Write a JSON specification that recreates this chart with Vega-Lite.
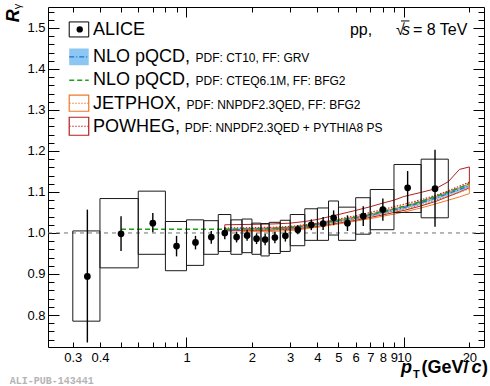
{
  "$schema": "https://vega.github.io/schema/vega-lite/v6.json",
  "width": 436,
  "height": 340,
  "autosize": "none",
  "padding": {"left": 48, "top": 7, "right": 6, "bottom": 39},
  "background": "white",
  "config": {
    "view": {"stroke": "black", "strokeWidth": 1},
    "font": "Liberation Sans",
    "text": {"font": "Liberation Sans", "color": "black"}
  },
  "data": {"values": [{}]},
  "datasets": {
    "alice": [
      {"pt": 0.35, "ptlo": 0.3, "pthi": 0.4, "r": 0.894, "statlo": 0.733, "stathi": 1.057, "syslo": 0.785, "syshi": 1.005},
      {"pt": 0.5, "ptlo": 0.4, "pthi": 0.6, "r": 0.998, "statlo": 0.956, "stathi": 1.041, "syslo": 0.915, "syshi": 1.084},
      {"pt": 0.7, "ptlo": 0.6, "pthi": 0.8, "r": 1.024, "statlo": 1.002, "stathi": 1.049, "syslo": 0.948, "syshi": 1.102},
      {"pt": 0.9, "ptlo": 0.8, "pthi": 1.0, "r": 0.968, "statlo": 0.943, "stathi": 0.993, "syslo": 0.908, "syshi": 1.028},
      {"pt": 1.1, "ptlo": 1.0, "pthi": 1.2, "r": 0.977, "statlo": 0.96, "stathi": 0.993, "syslo": 0.921, "syshi": 1.032},
      {"pt": 1.3, "ptlo": 1.2, "pthi": 1.4, "r": 0.99, "statlo": 0.974, "stathi": 1.005, "syslo": 0.948, "syshi": 1.03},
      {"pt": 1.5, "ptlo": 1.4, "pthi": 1.6, "r": 1.0, "statlo": 0.985, "stathi": 1.014, "syslo": 0.955, "syshi": 1.045},
      {"pt": 1.7, "ptlo": 1.6, "pthi": 1.8, "r": 0.99, "statlo": 0.977, "stathi": 1.003, "syslo": 0.948, "syshi": 1.032},
      {"pt": 1.9, "ptlo": 1.8, "pthi": 2.0, "r": 0.994, "statlo": 0.981, "stathi": 1.007, "syslo": 0.952, "syshi": 1.034},
      {"pt": 2.1, "ptlo": 2.0, "pthi": 2.2, "r": 0.986, "statlo": 0.973, "stathi": 0.999, "syslo": 0.948, "syshi": 1.024},
      {"pt": 2.3, "ptlo": 2.2, "pthi": 2.4, "r": 0.984, "statlo": 0.97, "stathi": 0.998, "syslo": 0.944, "syshi": 1.023},
      {"pt": 2.55, "ptlo": 2.4, "pthi": 2.7, "r": 0.989, "statlo": 0.975, "stathi": 1.003, "syslo": 0.95, "syshi": 1.026},
      {"pt": 2.85, "ptlo": 2.7, "pthi": 3.0, "r": 0.993, "statlo": 0.979, "stathi": 1.007, "syslo": 0.955, "syshi": 1.031},
      {"pt": 3.25, "ptlo": 3.0, "pthi": 3.5, "r": 1.008, "statlo": 0.997, "stathi": 1.019, "syslo": 0.969, "syshi": 1.045},
      {"pt": 3.75, "ptlo": 3.5, "pthi": 4.0, "r": 1.02, "statlo": 1.007, "stathi": 1.033, "syslo": 0.982, "syshi": 1.059},
      {"pt": 4.25, "ptlo": 4.0, "pthi": 4.5, "r": 1.023, "statlo": 1.007, "stathi": 1.039, "syslo": 0.982, "syshi": 1.061},
      {"pt": 4.75, "ptlo": 4.5, "pthi": 5.0, "r": 1.037, "statlo": 1.019, "stathi": 1.055, "syslo": 0.995, "syshi": 1.078},
      {"pt": 5.5, "ptlo": 5.0, "pthi": 6.0, "r": 1.024, "statlo": 1.005, "stathi": 1.043, "syslo": 0.982, "syshi": 1.063},
      {"pt": 6.5, "ptlo": 6.0, "pthi": 7.0, "r": 1.041, "statlo": 1.017, "stathi": 1.065, "syslo": 0.997, "syshi": 1.086},
      {"pt": 8.0, "ptlo": 7.0, "pthi": 9.0, "r": 1.057, "statlo": 1.03, "stathi": 1.084, "syslo": 1.008, "syshi": 1.106},
      {"pt": 10.4, "ptlo": 9.0, "pthi": 12.0, "r": 1.11, "statlo": 1.065, "stathi": 1.151, "syslo": 1.05, "syshi": 1.167},
      {"pt": 13.9, "ptlo": 12.0, "pthi": 16.0, "r": 1.108, "statlo": 1.015, "stathi": 1.203, "syslo": 1.037, "syshi": 1.18}
    ],
    "theory": [
      {"m": "CTEQ", "pt": 0.5, "mid": 1.009},
      {"m": "CTEQ", "pt": 1, "mid": 1.009},
      {"m": "CTEQ", "pt": 1.5, "mid": 1.009},
      {"m": "CTEQ", "pt": 2, "mid": 1.01},
      {"m": "CTEQ", "pt": 2.5, "mid": 1.011},
      {"m": "CTEQ", "pt": 3, "mid": 1.013},
      {"m": "CTEQ", "pt": 3.5, "mid": 1.017},
      {"m": "CTEQ", "pt": 4, "mid": 1.022},
      {"m": "CTEQ", "pt": 5, "mid": 1.031},
      {"m": "CTEQ", "pt": 6, "mid": 1.039},
      {"m": "CTEQ", "pt": 7, "mid": 1.046},
      {"m": "CTEQ", "pt": 8, "mid": 1.053},
      {"m": "CTEQ", "pt": 9, "mid": 1.059},
      {"m": "CTEQ", "pt": 10, "mid": 1.065},
      {"m": "CTEQ", "pt": 12, "mid": 1.077},
      {"m": "CTEQ", "pt": 14, "mid": 1.089},
      {"m": "CTEQ", "pt": 16, "mid": 1.1},
      {"m": "CTEQ", "pt": 18, "mid": 1.11},
      {"m": "CTEQ", "pt": 20, "mid": 1.121},
      {"m": "CT10", "pt": 1.5, "lo": 1.005, "mid": 1.008, "hi": 1.011},
      {"m": "CT10", "pt": 2, "lo": 1.006, "mid": 1.009, "hi": 1.012},
      {"m": "CT10", "pt": 2.5, "lo": 1.007, "mid": 1.01, "hi": 1.013},
      {"m": "CT10", "pt": 3, "lo": 1.009, "mid": 1.012, "hi": 1.015},
      {"m": "CT10", "pt": 3.5, "lo": 1.013, "mid": 1.016, "hi": 1.019},
      {"m": "CT10", "pt": 4, "lo": 1.018, "mid": 1.021, "hi": 1.024},
      {"m": "CT10", "pt": 5, "lo": 1.026, "mid": 1.029, "hi": 1.032},
      {"m": "CT10", "pt": 6, "lo": 1.033, "mid": 1.036, "hi": 1.039},
      {"m": "CT10", "pt": 7, "lo": 1.04, "mid": 1.043, "hi": 1.046},
      {"m": "CT10", "pt": 8, "lo": 1.046, "mid": 1.05, "hi": 1.053},
      {"m": "CT10", "pt": 9, "lo": 1.052, "mid": 1.056, "hi": 1.059},
      {"m": "CT10", "pt": 10, "lo": 1.058, "mid": 1.062, "hi": 1.065},
      {"m": "CT10", "pt": 12, "lo": 1.07, "mid": 1.074, "hi": 1.077},
      {"m": "CT10", "pt": 14, "lo": 1.081, "mid": 1.085, "hi": 1.089},
      {"m": "CT10", "pt": 16, "lo": 1.092, "mid": 1.096, "hi": 1.1},
      {"m": "CT10", "pt": 18, "lo": 1.102, "mid": 1.106, "hi": 1.11},
      {"m": "CT10", "pt": 20, "lo": 1.111, "mid": 1.115, "hi": 1.119},
      {"m": "JETPHOX", "pt": 1.8, "lo": 1.004, "mid": 1.007, "hi": 1.011},
      {"m": "JETPHOX", "pt": 2, "lo": 1.004, "mid": 1.007, "hi": 1.011},
      {"m": "JETPHOX", "pt": 2.5, "lo": 1.004, "mid": 1.008, "hi": 1.012},
      {"m": "JETPHOX", "pt": 3, "lo": 1.006, "mid": 1.01, "hi": 1.014},
      {"m": "JETPHOX", "pt": 3.5, "lo": 1.01, "mid": 1.014, "hi": 1.018},
      {"m": "JETPHOX", "pt": 4, "lo": 1.014, "mid": 1.018, "hi": 1.023},
      {"m": "JETPHOX", "pt": 5, "lo": 1.022, "mid": 1.027, "hi": 1.032},
      {"m": "JETPHOX", "pt": 6, "lo": 1.029, "mid": 1.034, "hi": 1.039},
      {"m": "JETPHOX", "pt": 7, "lo": 1.035, "mid": 1.041, "hi": 1.046},
      {"m": "JETPHOX", "pt": 8, "lo": 1.041, "mid": 1.047, "hi": 1.053},
      {"m": "JETPHOX", "pt": 9, "lo": 1.046, "mid": 1.053, "hi": 1.059},
      {"m": "JETPHOX", "pt": 10, "lo": 1.051, "mid": 1.058, "hi": 1.065},
      {"m": "JETPHOX", "pt": 12, "lo": 1.061, "mid": 1.069, "hi": 1.077},
      {"m": "JETPHOX", "pt": 14, "lo": 1.071, "mid": 1.08, "hi": 1.089},
      {"m": "JETPHOX", "pt": 16, "lo": 1.08, "mid": 1.09, "hi": 1.1},
      {"m": "JETPHOX", "pt": 18, "lo": 1.088, "mid": 1.099, "hi": 1.11},
      {"m": "JETPHOX", "pt": 20, "lo": 1.096, "mid": 1.108, "hi": 1.12},
      {"m": "POWHEG", "pt": 1.5, "lo": 1.005, "mid": 1.012, "hi": 1.02},
      {"m": "POWHEG", "pt": 2, "lo": 1.006, "mid": 1.013, "hi": 1.021},
      {"m": "POWHEG", "pt": 2.5, "lo": 1.007, "mid": 1.014, "hi": 1.022},
      {"m": "POWHEG", "pt": 3, "lo": 1.009, "mid": 1.016, "hi": 1.024},
      {"m": "POWHEG", "pt": 3.5, "lo": 1.012, "mid": 1.02, "hi": 1.028},
      {"m": "POWHEG", "pt": 4, "lo": 1.016, "mid": 1.024, "hi": 1.033},
      {"m": "POWHEG", "pt": 5, "lo": 1.024, "mid": 1.034, "hi": 1.045},
      {"m": "POWHEG", "pt": 6, "lo": 1.031, "mid": 1.042, "hi": 1.055},
      {"m": "POWHEG", "pt": 7, "lo": 1.038, "mid": 1.05, "hi": 1.064},
      {"m": "POWHEG", "pt": 8, "lo": 1.044, "mid": 1.057, "hi": 1.073},
      {"m": "POWHEG", "pt": 9, "lo": 1.05, "mid": 1.064, "hi": 1.08},
      {"m": "POWHEG", "pt": 10, "lo": 1.055, "mid": 1.07, "hi": 1.089},
      {"m": "POWHEG", "pt": 12, "lo": 1.066, "mid": 1.081, "hi": 1.099},
      {"m": "POWHEG", "pt": 14, "lo": 1.077, "mid": 1.092, "hi": 1.108},
      {"m": "POWHEG", "pt": 16, "lo": 1.089, "mid": 1.103, "hi": 1.125},
      {"m": "POWHEG", "pt": 18, "lo": 1.1, "mid": 1.114, "hi": 1.155},
      {"m": "POWHEG", "pt": 20, "lo": 1.11, "mid": 1.124, "hi": 1.161}
    ]
  },
  "layer": [
    {
      "layer": [
        {
          "mark": {"type": "rule", "color": "#707070", "strokeDash": [4, 4], "strokeWidth": 1},
          "encoding": {
            "x": {"datum": 0.2307, "type": "quantitative",
              "scale": {"type": "log", "domain": [0.2307, 23.35], "nice": false},
              "axis": {
                "orient": "bottom", "title": null, "grid": false, "domain": false,
                "values": [0.3, 0.4, 0.5, 0.6, 0.7, 0.8, 0.9, 1, 2, 3, 4, 5, 6, 7, 8, 9, 10, 20],
                "format": "~g",
                "labelExpr": "(datum.value > 0.45 && datum.value < 0.95) ? '' : datum.label",
                "tickSize": {"condition": {"test": "datum.value == 1 || datum.value == 10", "value": -10}, "value": -5},
                "labelPadding": {"condition": {"test": "datum.value == 1 || datum.value == 10", "value": 14}, "value": 9},
                "labelFontSize": 13, "labelFont": "Liberation Sans", "labelColor": "black",
                "tickColor": "black", "labelOverlap": false, "labelFlush": false, "labelBound": false
              }
            },
            "x2": {"datum": 23.35},
            "y": {"datum": 1, "type": "quantitative",
              "scale": {"domain": [0.722, 1.551], "nice": false, "zero": false},
              "axis": {
                "orient": "left", "title": null, "grid": false, "domain": false,
                "values": [0.8, 0.9, 1, 1.1, 1.2, 1.3, 1.4, 1.5],
                "format": ".1f",
                "tickSize": -11,
                "labelPadding": 14,
                "labelFontSize": 13, "labelFont": "Liberation Sans", "labelColor": "black",
                "tickColor": "black", "labelOverlap": false, "labelFlush": false, "labelBound": false
              }
            }
          }
        },
        {
          "data": {"name": "theory"},
          "transform": [{"filter": "datum.m == 'CT10'"}],
          "mark": {"type": "area", "color": "#8cc6f2", "opacity": 1},
          "encoding": {
            "x": {"field": "pt", "type": "quantitative"},
            "y": {"field": "lo", "type": "quantitative"},
            "y2": {"field": "hi"}
          }
        },
        {
          "data": {"name": "theory"},
          "transform": [{"filter": "datum.m == 'POWHEG'"}],
          "mark": {"type": "area", "filled": false, "color": "#b3201c", "strokeWidth": 1},
          "encoding": {
            "x": {"field": "pt", "type": "quantitative"},
            "y": {"field": "lo", "type": "quantitative"},
            "y2": {"field": "hi"}
          }
        },
        {
          "data": {"name": "theory"},
          "transform": [{"filter": "datum.m == 'JETPHOX'"}],
          "mark": {"type": "area", "filled": false, "color": "#f0782a", "strokeWidth": 1},
          "encoding": {
            "x": {"field": "pt", "type": "quantitative"},
            "y": {"field": "lo", "type": "quantitative"},
            "y2": {"field": "hi"}
          }
        },
        {
          "data": {"name": "theory"},
          "transform": [{"filter": "datum.m == 'CT10'"}],
          "mark": {"type": "line", "color": "#1f6fd1", "strokeWidth": 1.2, "strokeDash": [5, 2, 1, 2]},
          "encoding": {
            "x": {"field": "pt", "type": "quantitative"},
            "y": {"field": "mid", "type": "quantitative"}
          }
        },
        {
          "data": {"name": "theory"},
          "transform": [{"filter": "datum.m == 'CTEQ'"}],
          "mark": {"type": "line", "color": "#1ca01c", "strokeWidth": 1.5, "strokeDash": [5, 3]},
          "encoding": {
            "x": {"field": "pt", "type": "quantitative"},
            "y": {"field": "mid", "type": "quantitative"}
          }
        },
        {
          "data": {"name": "theory"},
          "transform": [{"filter": "datum.m == 'JETPHOX'"}],
          "mark": {"type": "line", "color": "#f0782a", "strokeWidth": 1.2, "strokeDash": [1.5, 1.5]},
          "encoding": {
            "x": {"field": "pt", "type": "quantitative"},
            "y": {"field": "mid", "type": "quantitative"}
          }
        },
        {
          "data": {"name": "theory"},
          "transform": [{"filter": "datum.m == 'POWHEG'"}],
          "mark": {"type": "line", "color": "#d42020", "strokeWidth": 1.2, "strokeDash": [1.5, 1.5]},
          "encoding": {
            "x": {"field": "pt", "type": "quantitative"},
            "y": {"field": "mid", "type": "quantitative"}
          }
        },
        {
          "data": {"name": "alice"},
          "mark": {"type": "rect", "fill": "transparent", "stroke": "#1a1a1a", "strokeWidth": 1},
          "encoding": {
            "x": {"field": "ptlo", "type": "quantitative"},
            "x2": {"field": "pthi"},
            "y": {"field": "syslo", "type": "quantitative"},
            "y2": {"field": "syshi"}
          }
        },
        {
          "data": {"name": "alice"},
          "mark": {"type": "rule", "color": "black", "strokeWidth": 1.4},
          "encoding": {
            "x": {"field": "pt", "type": "quantitative"},
            "y": {"field": "statlo", "type": "quantitative"},
            "y2": {"field": "stathi"}
          }
        },
        {
          "data": {"name": "alice"},
          "mark": {"type": "point", "filled": true, "color": "black", "opacity": 1, "size": 45},
          "encoding": {
            "x": {"field": "pt", "type": "quantitative"},
            "y": {"field": "r", "type": "quantitative"}
          }
        },
        {
          "mark": {"type": "rect", "fill": "transparent", "stroke": "black", "strokeWidth": 1},
          "encoding": {"x": {"datum": 0.2888}, "x2": {"datum": 0.3551}, "y": {"datum": 1.478}, "y2": {"datum": 1.5146}}
        },
        {
          "mark": {"type": "point", "filled": true, "color": "black", "opacity": 1, "size": 40},
          "encoding": {"x": {"datum": 0.3228}, "y": {"datum": 1.4963}}
        },
        {
          "mark": {"type": "rect", "color": "#8cc6f2"},
          "encoding": {"x": {"datum": 0.2888}, "x2": {"datum": 0.3551}, "y": {"datum": 1.409}, "y2": {"datum": 1.4498}}
        },
        {
          "mark": {"type": "rule", "color": "#1f6fd1", "strokeWidth": 1.2, "strokeDash": [5, 2, 1, 2]},
          "encoding": {"x": {"datum": 0.2888}, "x2": {"datum": 0.3551}, "y": {"datum": 1.4294}}
        },
        {
          "mark": {"type": "rule", "color": "#1ca01c", "strokeWidth": 1.5, "strokeDash": [5, 3]},
          "encoding": {"x": {"datum": 0.2888}, "x2": {"datum": 0.3551}, "y": {"datum": 1.3724}}
        },
        {
          "mark": {"type": "rect", "fill": "transparent", "stroke": "#f0782a", "strokeWidth": 1.2},
          "encoding": {"x": {"datum": 0.2888}, "x2": {"datum": 0.3551}, "y": {"datum": 1.2968}, "y2": {"datum": 1.3359}}
        },
        {
          "mark": {"type": "rule", "color": "#f0782a", "strokeWidth": 1.2, "strokeDash": [1.5, 1.5]},
          "encoding": {"x": {"datum": 0.2888}, "x2": {"datum": 0.3551}, "y": {"datum": 1.3163}}
        },
        {
          "mark": {"type": "rect", "fill": "transparent", "stroke": "#b3201c", "strokeWidth": 1.2},
          "encoding": {"x": {"datum": 0.2888}, "x2": {"datum": 0.3551}, "y": {"datum": 1.2383}, "y2": {"datum": 1.2822}}
        },
        {
          "mark": {"type": "rule", "color": "#d42020", "strokeWidth": 1.2, "strokeDash": [1.5, 1.5]},
          "encoding": {"x": {"datum": 0.2888}, "x2": {"datum": 0.3551}, "y": {"datum": 1.2602}}
        },
        {
          "mark": {"type": "text", "text": "ALICE", "fontSize": 18, "align": "left", "baseline": "alphabetic"},
          "encoding": {"x": {"datum": 0.3717}, "y": {"datum": 1.4822}}
        },
        {
          "mark": {"type": "text", "text": "NLO pQCD,", "fontSize": 18, "align": "left", "baseline": "alphabetic"},
          "encoding": {"x": {"datum": 0.3717}, "y": {"datum": 1.4171}}
        },
        {
          "mark": {"type": "text", "text": "NLO pQCD,", "fontSize": 18, "align": "left", "baseline": "alphabetic"},
          "encoding": {"x": {"datum": 0.3717}, "y": {"datum": 1.3602}}
        },
        {
          "mark": {"type": "text", "text": "JETPHOX,", "fontSize": 18, "align": "left", "baseline": "alphabetic"},
          "encoding": {"x": {"datum": 0.3717}, "y": {"datum": 1.3034}}
        },
        {
          "mark": {"type": "text", "text": "POWHEG,", "fontSize": 18, "align": "left", "baseline": "alphabetic"},
          "encoding": {"x": {"datum": 0.3717}, "y": {"datum": 1.2466}}
        },
        {
          "mark": {"type": "text", "text": "PDF: CT10, FF: GRV", "fontSize": 12, "align": "left", "baseline": "alphabetic"},
          "encoding": {"x": {"datum": 1.1}, "y": {"datum": 1.4171}}
        },
        {
          "mark": {"type": "text", "text": "PDF: CTEQ6.1M, FF: BFG2", "fontSize": 12, "align": "left", "baseline": "alphabetic"},
          "encoding": {"x": {"datum": 1.1}, "y": {"datum": 1.3602}}
        },
        {
          "mark": {"type": "text", "text": "PDF: NNPDF2.3QED, FF: BFG2", "fontSize": 12, "align": "left", "baseline": "alphabetic"},
          "encoding": {"x": {"datum": 1.0}, "y": {"datum": 1.3034}}
        },
        {
          "mark": {"type": "text", "text": "PDF: NNPDF2.3QED + PYTHIA8 PS", "fontSize": 12, "align": "left", "baseline": "alphabetic"},
          "encoding": {"x": {"datum": 0.982}, "y": {"datum": 1.2466}}
        },
        {
          "mark": {"type": "text", "text": "pp,", "fontSize": 16, "align": "left", "baseline": "alphabetic"},
          "encoding": {"x": {"datum": 5.643}, "y": {"datum": 1.4837}}
        },
        {
          "mark": {"type": "text", "text": "√", "fontSize": 16, "align": "left", "baseline": "alphabetic"},
          "encoding": {"x": {"datum": 9.189}, "y": {"datum": 1.4837}}
        },
        {
          "mark": {"type": "text", "text": "s", "fontSize": 16, "fontStyle": "italic", "align": "left", "baseline": "alphabetic"},
          "encoding": {"x": {"datum": 9.79}, "y": {"datum": 1.4837}}
        },
        {
          "mark": {"type": "rule", "color": "black", "strokeWidth": 1},
          "encoding": {"x": {"datum": 9.7}, "x2": {"datum": 10.6}, "y": {"datum": 1.517}}
        },
        {
          "mark": {"type": "text", "text": "= 8 TeV", "fontSize": 16, "align": "left", "baseline": "alphabetic"},
          "encoding": {"x": {"datum": 11.0}, "y": {"datum": 1.4837}}
        },
        {
          "mark": {"type": "text", "text": "p", "fontSize": 18, "fontWeight": "bold", "fontStyle": "italic", "align": "left", "baseline": "alphabetic"},
          "encoding": {"x": {"datum": 9.687}, "y": {"datum": 0.6578}}
        },
        {
          "mark": {"type": "text", "text": "T", "fontSize": 11, "fontWeight": "bold", "align": "left", "baseline": "alphabetic"},
          "encoding": {"x": {"datum": 11.0}, "y": {"datum": 0.6456}}
        },
        {
          "mark": {"type": "text", "text": "(GeV/", "fontSize": 18, "fontWeight": "bold", "align": "left", "baseline": "alphabetic"},
          "encoding": {"x": {"datum": 12.06}, "y": {"datum": 0.6578}}
        },
        {
          "mark": {"type": "text", "text": "c", "fontSize": 18, "fontWeight": "bold", "fontStyle": "italic", "align": "left", "baseline": "alphabetic", "dx": 50},
          "encoding": {"x": {"datum": 12.06}, "y": {"datum": 0.6578}}
        },
        {
          "mark": {"type": "text", "text": ")", "fontSize": 18, "fontWeight": "bold", "align": "left", "baseline": "alphabetic", "dx": 60.5},
          "encoding": {"x": {"datum": 12.06}, "y": {"datum": 0.6578}}
        },
        {
          "mark": {"type": "text", "text": "R", "fontSize": 18, "fontWeight": "bold", "fontStyle": "italic", "angle": 270, "align": "left", "baseline": "alphabetic"},
          "encoding": {"x": {"datum": 0.1691}, "y": {"datum": 1.5139}}
        },
        {
          "mark": {"type": "text", "text": "γ", "fontSize": 11, "angle": 270, "align": "left", "baseline": "alphabetic"},
          "encoding": {"x": {"datum": 0.1728}, "y": {"datum": 1.5456}}
        },
        {
          "mark": {"type": "text", "text": "ALI-PUB-143441", "font": "Liberation Mono", "fontSize": 10, "fontWeight": "bold", "color": "#b4b4b4", "align": "left", "baseline": "alphabetic"},
          "encoding": {"x": {"datum": 0.1537}, "y": {"datum": 0.631}}
        }
      ]
    },
    {
      "mark": {"type": "point", "opacity": 0},
      "encoding": {
        "x": {"datum": 1, "type": "quantitative",
          "scale": {"type": "log", "domain": [0.2307, 23.35], "nice": false},
          "axis": {
            "orient": "top", "title": null, "grid": false, "domain": false, "labels": false,
            "values": [0.3, 0.4, 0.5, 0.6, 0.7, 0.8, 0.9, 1, 2, 3, 4, 5, 6, 7, 8, 9, 10, 20],
            "tickSize": {"condition": {"test": "datum.value == 1 || datum.value == 10", "value": -10}, "value": -5},
            "tickColor": "black"
          }
        },
        "y": {"datum": 1, "type": "quantitative",
          "scale": {"domain": [0.722, 1.551], "nice": false, "zero": false},
          "axis": {
            "orient": "right", "title": null, "grid": false, "domain": false, "labels": false,
            "values": [0.74, 0.76, 0.78, 0.8, 0.82, 0.84, 0.86, 0.88, 0.9, 0.92, 0.94, 0.96, 0.98, 1, 1.02, 1.04, 1.06, 1.08, 1.1, 1.12, 1.14, 1.16, 1.18, 1.2, 1.22, 1.24, 1.26, 1.28, 1.3, 1.32, 1.34, 1.36, 1.38, 1.4, 1.42, 1.44, 1.46, 1.48, 1.5, 1.52, 1.54],
            "tickSize": {"condition": {"test": "abs(datum.value*10 - round(datum.value*10)) < 0.01", "value": -11}, "value": -6},
            "tickColor": "black"
          }
        }
      }
    },
    {
      "mark": {"type": "point", "opacity": 0},
      "encoding": {
        "y": {"datum": 1, "type": "quantitative",
          "scale": {"domain": [0.722, 1.551], "nice": false, "zero": false},
          "axis": {
            "orient": "left", "title": null, "grid": false, "domain": false, "labels": false,
            "values": [0.74, 0.76, 0.78, 0.82, 0.84, 0.86, 0.88, 0.92, 0.94, 0.96, 0.98, 1.02, 1.04, 1.06, 1.08, 1.12, 1.14, 1.16, 1.18, 1.22, 1.24, 1.26, 1.28, 1.32, 1.34, 1.36, 1.38, 1.42, 1.44, 1.46, 1.48, 1.52, 1.54],
            "tickSize": -6,
            "tickColor": "black"
          }
        }
      }
    }
  ],
  "resolve": {"scale": {"x": "independent", "y": "independent"}}
}
